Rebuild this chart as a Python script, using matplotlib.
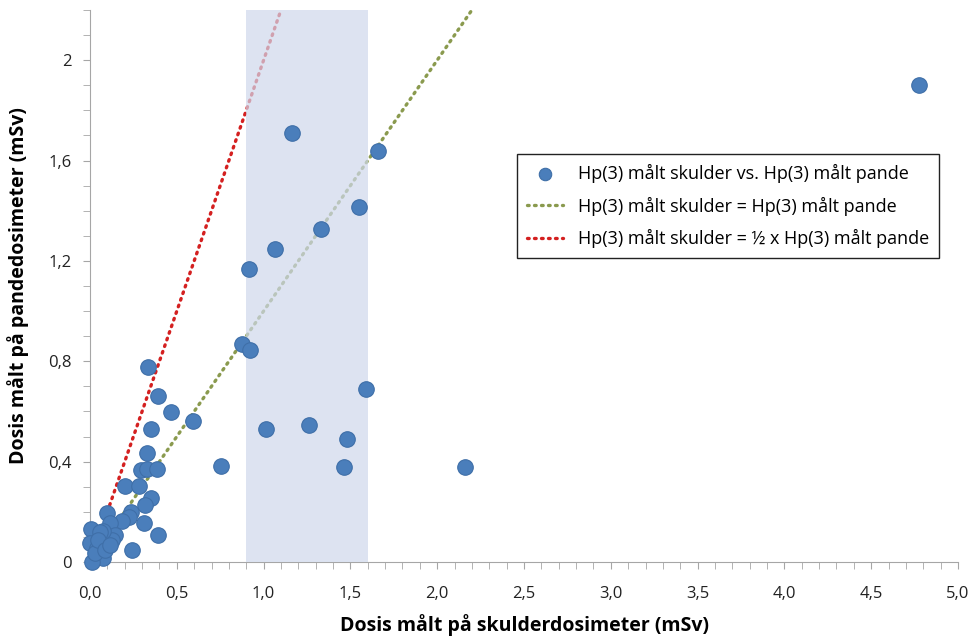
import matplotlib
matplotlib.use("Agg")
import matplotlib.pyplot as plt
from matplotlib.ticker import MultipleLocator, FuncFormatter

# Hp(3) skulder (x) vs Hp(3) pande (y), mSv
skulder = [4.775, 1.162, 1.66, 1.55, 1.33, 1.066, 0.916, 0.874, 0.92, 1.59,
           1.014, 1.261, 1.48, 0.753, 1.463, 2.162, 0.591,
           0.332, 0.394, 0.465, 0.353, 0.33, 0.294, 0.326, 0.384, 0.204,
           0.28, 0.35, 0.315, 0.236, 0.226, 0.182, 0.096, 0.309, 0.394,
           0.004, 0.244, 0.115, 0.144, 0.125, 0.077, 0.058, 0.077, 0.01,
           0.0, 0.038, 0.03, 0.048, 0.086, 0.115]
pande = [1.90, 1.71, 1.64, 1.414, 1.327, 1.247, 1.166, 0.869, 0.845, 0.69,
         0.531, 0.546, 0.491, 0.384, 0.38, 0.38, 0.563,
         0.778, 0.663, 0.599, 0.531, 0.436, 0.367, 0.372, 0.372, 0.303,
         0.303, 0.254, 0.228, 0.2, 0.18, 0.162, 0.195, 0.154, 0.109,
         0.133, 0.049, 0.157, 0.108, 0.088, 0.125, 0.12, 0.015, 0.001,
         0.076, 0.055, 0.035, 0.088, 0.048, 0.068]

# reference lines
line_1to1_x = [0.1, 2.2]
line_1to1_y = [0.1, 2.2]
line_half_x = [0.1, 1.1]
line_half_y = [0.2, 2.2]

# shaded band on the x-axis
band = (0.9, 1.6)

fig = plt.figure(figsize=(9.72, 6.37), dpi=100)
ax = fig.add_axes([90 / 972, 1 - 562 / 637, 868 / 972, 552 / 637])

ax.plot(line_1to1_x, line_1to1_y, linestyle=(0, (0.5, 1.6)), color="#8a9a4e",
        linewidth=2.4, dash_capstyle="round", zorder=2,
        label="Hp(3) målt skulder = Hp(3) målt pande")
ax.plot(line_half_x, line_half_y, linestyle=(0, (0.5, 1.6)), color="#d42020",
        linewidth=2.4, dash_capstyle="round", zorder=2,
        label="Hp(3) målt skulder = ½ x Hp(3) målt pande")
ax.axvspan(*band, color="#cfd8ec", alpha=0.7, linewidth=0, zorder=3)
ax.scatter(skulder, pande, s=125, color="#4a7ebb", edgecolor="#3f6fa8",
           linewidth=0.8, zorder=4, clip_on=False,
           label="Hp(3) målt skulder vs. Hp(3) målt pande")

ax.set_xlim(0, 5.0)
ax.set_ylim(0, 2.2)
ax.xaxis.set_major_locator(MultipleLocator(0.5))
ax.xaxis.set_minor_locator(MultipleLocator(0.1))
ax.yaxis.set_major_locator(MultipleLocator(0.4))
ax.yaxis.set_minor_locator(MultipleLocator(0.1))
ax.xaxis.set_major_formatter(FuncFormatter(lambda v, p: f"{v:.1f}".replace(".", ",")))
ax.yaxis.set_major_formatter(FuncFormatter(
    lambda v, p: "0" if abs(v) < 1e-9 else (f"{v:g}".replace(".", ","))))

for s in ("top", "right"):
    ax.spines[s].set_visible(False)
for s in ("left", "bottom"):
    ax.spines[s].set_color("#a6a6a6")
ax.tick_params(which="both", direction="out", length=5, color="#a6a6a6")
ax.tick_params(axis="x", labelsize=12, pad=12, labelcolor="#222222")
ax.tick_params(axis="y", labelsize=12, pad=8, labelcolor="#222222")
for lab in ax.get_xticklabels():
    lab.set_family(["Liberation Sans Narrow", "Open Sans"])
for lab in ax.get_yticklabels():
    lab.set_family("Open Sans")

# x title placed directly so it stays inside the canvas
fig.text(525 / 972, 1 - 625 / 637, "Dosis målt på skulderdosimeter (mSv)",
         fontsize=14, fontweight="bold", family=["Open Sans", "DejaVu Sans"],
         ha="center", va="center")
ax.set_ylabel("Dosis målt på pandedosimeter (mSv)", fontsize=14,
              fontweight="bold", family=["Open Sans", "DejaVu Sans"], labelpad=14)

handles, labels = ax.get_legend_handles_labels()
order = [2, 0, 1]
leg = ax.legend([handles[i] for i in order], [labels[i] for i in order],
                loc="upper left", bbox_to_anchor=(418 / 868, 1 - 135 / 552),
                prop={"family": "Open Sans", "size": 13}, frameon=True,
                fancybox=False, edgecolor="#222222", framealpha=1,
                handlelength=2.0, labelspacing=0.75, borderpad=0.55,
                markerscale=0.8)
leg.get_frame().set_linewidth(1.0)

fig.savefig("out.png", dpi=100)
